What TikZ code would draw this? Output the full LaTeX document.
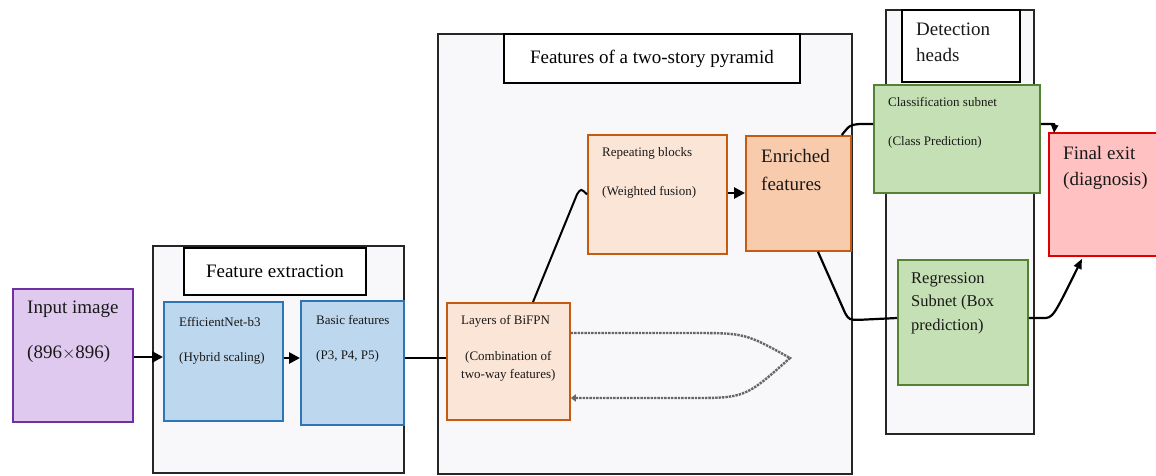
\documentclass[tikz,border=0pt]{standalone}
\usepackage{fontspec}
\setmainfont{Liberation Serif}
\usetikzlibrary{arrows.meta,calc}
\definecolor{contfill}{HTML}{F8F8FA}
\definecolor{purfill}{HTML}{E0C9EE}
\definecolor{purline}{HTML}{7030A0}
\definecolor{bluefill}{HTML}{BDD7EE}
\definecolor{blueline}{HTML}{2E75B6}
\definecolor{orfill}{HTML}{FBE5D6}
\definecolor{orfill2}{HTML}{F8CBAD}
\definecolor{orline}{HTML}{C55A11}
\definecolor{grfill}{HTML}{C5E0B4}
\definecolor{grline}{HTML}{548235}
\definecolor{redfill}{HTML}{FFC1C1}
\definecolor{redline}{HTML}{E00000}
\tikzset{
  boxbase/.style={rectangle, anchor=north west, inner sep=0pt, line width=1.8pt},
  container/.style={boxbase, draw=black!85, fill=contfill, line width=2.4pt},
  labelbox/.style={boxbase, draw=black, fill=white, line width=1.8pt},
  txt/.style={anchor=west, inner sep=0pt, text=black!90},
  bigf/.style={font=\fontsize{19}{22}\selectfont},
  midf/.style={font=\fontsize{16.5}{19}\selectfont},
  smallf/.style={font=\fontsize{13}{15}\selectfont},
  conn/.style={line width=2.6pt, black},
  arr/.style={conn, -{Triangle[length=11pt,width=11pt]}},
}
\begin{document}
\begin{tikzpicture}[x=1pt,y=-1pt]
\useasboundingbox (0,0) rectangle (1156,475);
% containers
\node[container, minimum width=251pt, minimum height=227pt] (fecont) at (152,245) {};
\node[container, minimum width=414pt, minimum height=440pt] (pycont) at (437,33) {};
\node[container, minimum width=148pt, minimum height=424pt] (dhcont) at (885,9) {};
% label boxes
\node[labelbox, minimum width=182pt, minimum height=47pt] (felab) at (183,247) {};
\node[bigf, inner sep=0pt] (felabt) at (felab.center) {Feature extraction};
\node[labelbox, minimum width=296pt, minimum height=49pt] (pylab) at (503,33) {};
\node[bigf, inner sep=0pt] (pylabt) at (pylab.center) {Features of a two-story pyramid};
\node[labelbox, minimum width=118pt, minimum height=72pt] (dhlab) at (901,9) {};
\node[txt, bigf] (dht1) at (916,29) {Detection};
\node[txt, bigf] (dht2) at (916,55) {heads};
% boxes
\node[boxbase, draw=purline, fill=purfill, minimum width=120pt, minimum height=133pt] (inp) at (12,288) {};
\node[txt, bigf] (inpt1) at (27,309) {Input image};
\node[txt, bigf] (inpt2) at (27,354) {(896$\times$896)};
\node[boxbase, draw=blueline, fill=bluefill, minimum width=119pt, minimum height=119pt] (eff) at (163,301) {};
\node[txt, smallf] (efft1) at (179,322) {EfficientNet-b3};
\node[txt, smallf] (efft2) at (179,358) {(Hybrid scaling)};
\node[boxbase, draw=blueline, fill=bluefill, minimum width=103pt, minimum height=124pt] (bas) at (300,300) {};
\node[txt, smallf] (bast1) at (316,320) {Basic features};
\node[txt, smallf] (bast2) at (316,356) {(P3, P4, P5)};
\node[boxbase, draw=orline, fill=orfill, minimum width=123pt, minimum height=117pt] (bif) at (446,302) {};
\node[txt, smallf] (bift1) at (461,321) {Layers of BiFPN};
\node[txt, smallf] (bift2) at (465,357) {(Combination of};
\node[txt, smallf] (bift3) at (461,375) {two-way features)};
\node[boxbase, draw=orline, fill=orfill, minimum width=139pt, minimum height=119pt] (rep) at (587,134) {};
\node[txt, smallf] (rept1) at (602,153) {Repeating blocks};
\node[txt, smallf] (rept2) at (602,192) {(Weighted fusion)};
\node[boxbase, draw=orline, fill=orfill2, minimum width=105pt, minimum height=115pt] (enr) at (745,135) {};
\node[txt, bigf] (enrt1) at (761,156) {Enriched};
\node[txt, bigf] (enrt2) at (761,184) {features};
\node[boxbase, draw=grline, fill=grfill, minimum width=166pt, minimum height=108pt] (cls) at (873,84) {};
\node[txt, smallf] (clst1) at (888,102) {Classification subnet};
\node[txt, smallf] (clst2) at (888,142) {(Class Prediction)};
\node[boxbase, draw=grline, fill=grfill, minimum width=130pt, minimum height=125pt] (reg) at (897,259) {};
\node[txt, midf] (regt1) at (911,280) {Regression};
\node[txt, midf] (regt2) at (911,303) {Subnet (Box};
\node[txt, midf] (regt3) at (911,327) {prediction)};
\node[boxbase, draw=redline, fill=redfill, minimum width=112pt, minimum height=123pt] (fin) at (1048,132) {};
\node[txt, bigf] (fint1) at (1063,153) {Final exit};
\node[txt, bigf] (fint2) at (1063,181) {(diagnosis)};
% connectors
\draw[arr] (inp.east |- 0,357) -- (eff.west |- 0,357);
\draw[arr] (eff.east |- 0,358) -- (bas.west |- 0,358);
\draw[conn] (bas.east |- 0,358) -- (bif.west |- 0,358);
\draw[conn, line width=2pt] ($(bif.north west)+(87,0)$) -- ($(rep.west)+(-10,0)$) .. controls ($(rep.west)+(-6,-6)$) .. (rep.west);
\draw[arr] (rep.east |- 0,193) -- (enr.west |- 0,193);
\draw[conn, line width=2.2pt] ($(enr.north east)+(-10,0)$) .. controls ($(enr.north east)+(-2,-10)$) .. ($(enr.north east)+(8,-11)$) -- (cls.west |- 0,124);
\draw[conn, line width=2.2pt] ($(enr.south west)+(73,0)$) -- ($(enr.south west)+(100,61)$) .. controls ($(enr.south west)+(104,68)$) .. ($(enr.south west)+(115,68)$) -- (reg.west |- 0,318);
\draw[conn, line width=2.2pt, -{Triangle[length=8pt,width=7pt]}] (cls.east |- 0,124) -- ($(cls.east |- 0,124)+(8,0)$) .. controls ($(cls.east |- 0,124)+(14,0)$) .. ($(fin.north west)+(6,1)$);
\draw[conn, line width=2.2pt, -{Triangle[length=10pt,width=8pt]}] (reg.east |- 0,318) -- ($(reg.east |- 0,318)+(14,0)$) .. controls ($(reg.east |- 0,318)+(24,0)$) .. ($(fin.south west)+(34,2)$);
\coordinate (tip) at (790,358);
\draw[line width=2.4pt, black!60, densely dotted, -{Triangle[length=5pt,width=7pt]}] (bif.east |- 0,333) -- ($(tip)+(-100,-25)$) .. controls ($(tip)+(-45,-25)$) .. (tip) .. controls ($(tip)+(-45,40)$) .. ($(tip)+(-100,40)$) -- (bif.east |- 0,398);
\end{tikzpicture}
\end{document}
